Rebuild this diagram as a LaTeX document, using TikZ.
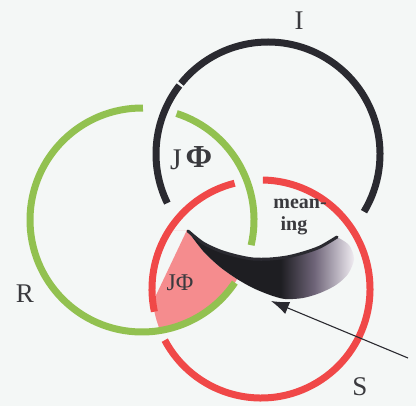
\documentclass[tikz,border=0pt]{standalone}
\usepackage{fontspec}
\setmainfont{Liberation Serif}
\usetikzlibrary{arrows.meta}
\definecolor{bgc}{HTML}{F4F7F6}
\definecolor{icol}{HTML}{2A2A30}
\definecolor{rcol}{HTML}{92C150}
\definecolor{scol}{HTML}{F04848}
\definecolor{pinkc}{HTML}{F58C8E}
\definecolor{labc}{HTML}{3A3A3E}
\definecolor{cdark}{HTML}{1E1E22}
\definecolor{cmid}{HTML}{6E6478}
\definecolor{clight}{HTML}{F0ECF2}
\pgfdeclarehorizontalshading{crescentshade}{100bp}{color(0bp)=(cdark); color(25bp)=(cdark); color(53bp)=(cdark); color(63bp)=(cmid); color(75bp)=(clight); color(100bp)=(clight)}
\begin{document}
\begin{tikzpicture}[x=1pt,y=-1pt,
  ring/.style={line width=7pt},
  biglab/.style={font=\fontsize{27}{27}\selectfont, text=labc},
  inlab/.style={font=\fontsize{24}{24}\selectfont, text=labc},
  meanlab/.style={font=\fontsize{20}{20}\selectfont\bfseries, text=labc, inner sep=0pt}]
\fill[bgc] (0,0) rectangle (416,406);
\useasboundingbox (0,0) rectangle (416,406);
\coordinate (Ic) at (268,154);
\coordinate (Rc) at (142,220);
\coordinate (Sc) at (261,289);
% pink region J Phi
\begin{scope}
  \clip (Rc) circle[radius=112];
  \clip (Sc) circle[radius=109];
  \fill[pinkc] (140,231) -- (187,230)
    plot[smooth] coordinates {(187,230) (203,251) (220,267) (237,279) (253,288)}
    -- (262,300) -- (262,350) -- (130,350) -- cycle;
\end{scope}
% I (imaginary)
\draw[ring, icol] (Ic) ++(31:112) arc[start angle=31, end angle=-141, radius=112];
\draw[ring, icol] (Ic) ++(-142.3:112) arc[start angle=-142.3, end angle=-206, radius=112];
% S (symbolic)
\draw[ring, scol] (Sc) ++(-104:109) arc[start angle=-104, end angle=-192, radius=109];
\draw[ring, scol] (Sc) ++(-208:109) arc[start angle=-208, end angle=-449, radius=109];
% R (real)
\draw[ring, rcol] (Rc) ++(-89.5:112) arc[start angle=-89.5, end angle=-326, radius=112];
\draw[ring, rcol] (Rc) ++(13:112) arc[start angle=13, end angle=-72, radius=112];
% crescent (meaning)
\shade[shading=crescentshade]
  plot[smooth] coordinates {(187,230) (203,243) (220,251) (237,256) (253,259) (270,259) (287,257) (303,253) (320,247) (337,237)}
  -- plot[smooth] coordinates {(337,237) (349,245) (354,259) (348,274) (336,285) (320,293) (303,298) (285,299) (270,295) (253,288) (237,279) (220,267) (203,251) (187,230)}
  -- cycle;
\draw[icol, line width=3pt, line cap=round]
  plot[smooth] coordinates {(188,231) (203,243) (220,251) (237,256) (253,259) (270,259) (287,257) (303,253) (320,247) (337,237)};
% arrow
\coordinate (tail) at (408,358);
\coordinate (tip) at (271,301);
\draw[icol, line width=1.1pt, -{Latex[length=18pt,width=13pt]}] (tail) -- (tip);
% labels
\node[biglab] (labI) at (299,21) {I};
\node[biglab] (labR) at (25,294) {R};
\node[biglab] (labS) at (360,387) {S};
\node[inlab] (jphi) at (180,283) {JΦ};
\node[font=\fontsize{30}{30}\selectfont, text=labc] (jA) at (176,160) {J};
\node[font=\fontsize{32}{32}\selectfont\bfseries, text=labc] (jB) at (199,157) {Φ};
\node[meanlab] (mean1) at (300,204) {mean-};
\node[meanlab] (mean2) at (294,226) {ing};
\end{tikzpicture}
\end{document}
